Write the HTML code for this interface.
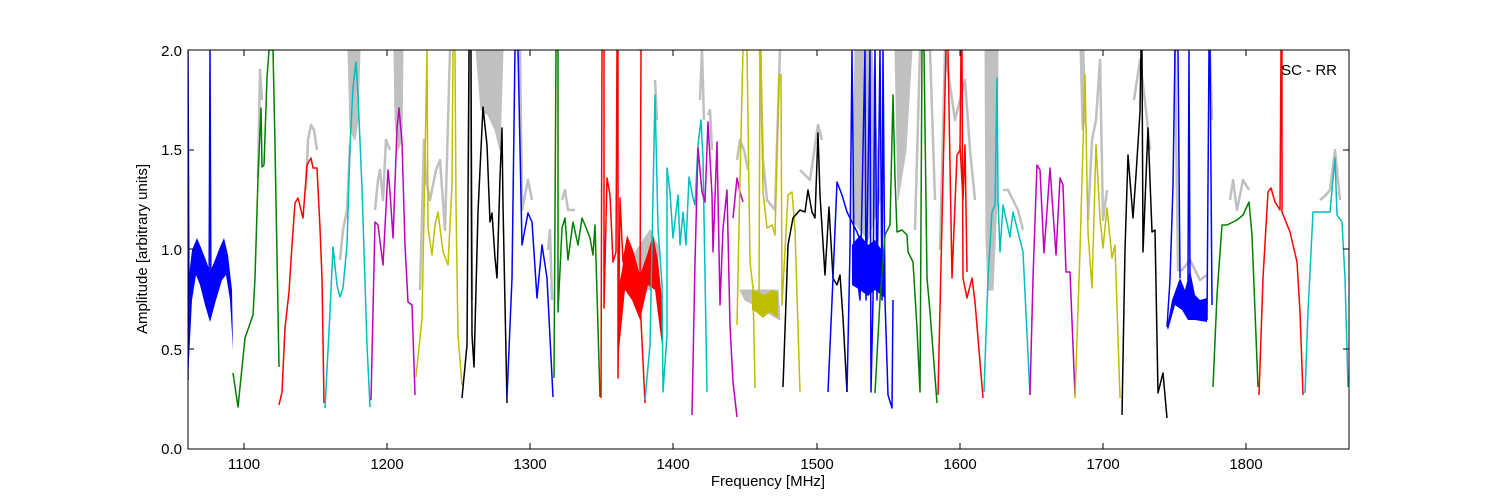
<!DOCTYPE html>
<html><head><meta charset="utf-8"><style>
html,body{margin:0;padding:0;background:#fff;}
svg{display:block;font-family:"Liberation Sans","DejaVu Sans",sans-serif;}
</style></head><body>
<svg width="1500" height="500" viewBox="0 0 1500 500">
<rect width="1500" height="500" fill="#fff"/>
<defs><clipPath id="c"><rect x="188" y="50" width="1161" height="399"/></clipPath></defs>
<g clip-path="url(#c)" fill="none" stroke-linejoin="round">
<g fill="#c0c0c0" stroke="#c0c0c0" stroke-width="1">
<polygon points="348,50 360,50 358,120 355,140 350,130"/>
<polygon points="394,50 403,50 402,140 398,150 395,120"/>
<polygon points="476,50 503,50 500,150 495,130 488,115 481,110"/>
<polygon points="985,50 998,50 997,200 993,290 988,290 986,240"/>
<polygon points="855,50 872,50 880,200 868,240 852,220"/>
<polygon points="895,50 912,50 906,150 898,200"/>
<polygon points="1080,50 1084,50 1086,120 1082,130"/>
<polygon points="740,290 778,290 780,320 745,300"/>
<polygon points="630,260 650,230 660,250 650,290 640,285"/>
</g>
<g stroke="#c0c0c0" stroke-width="2.5">
<polyline points="258,178 260,70 262,100"/>
<polyline points="306,190 308,140 311,125 314,130 317,150"/>
<polyline points="340,260 343,230 347,210 350,145"/>
<polyline points="375,210 378,180 380,170 383,200 386,140 390,150"/>
<polyline points="420,290 424,140 426,180 430,200 436,170 440,160 445,230 450,50"/>
<polyline points="470,50 472,300"/>
<polyline points="520,50 522,210 528,180 532,200"/>
<polyline points="548,250 550,230 552,300"/>
<polyline points="562,200 565,190 568,210 575,210"/>
<polyline points="655,80 657,120"/>
<polyline points="700,100 702,50 704,120"/>
<polyline points="708,115 710,110 712,150"/>
<polyline points="737,160 740,140 744,150 748,170"/>
<polyline points="760,50 763,160 767,200 775,210 780,50"/>
<polyline points="800,170 810,180 818,125 822,140"/>
<polyline points="915,230 920,50 930,50 935,200"/>
<polyline points="940,250 945,50 955,120 965,80 970,150 975,200"/>
<polyline points="1003,190 1008,190 1013,200 1018,210 1023,230"/>
<polyline points="1088,220 1092,140 1096,120 1100,60 1103,220 1107,190"/>
<polyline points="1134,100 1140,60 1146,110 1150,150"/>
<polyline points="1175,50 1178,270 1182,270 1190,260 1200,280 1207,275"/>
<polyline points="1208,50 1210,50 1212,120"/>
<polyline points="1230,200 1233,180 1237,210 1243,180 1249,190"/>
<polyline points="1320,200 1326,195 1330,190 1335,150 1340,200"/>
</g>
<g stroke="none">
<polygon fill="#0000ff" points="188,285 192,250 197,238 202,250 207,263 210,272 215,260 220,247 224,238 228,255 232,290 233,350 230,300 226,275 222,280 216,300 210,322 205,305 200,285 196,275 192,300 188,380"/>
<polygon fill="#ff0000" points="618,290 622,270 627,235 633,250 640,275 647,255 653,235 658,260 662,300 662,345 660,330 655,290 648,285 640,320 632,300 625,290 620,340 618,360"/>
<polygon fill="#bfbf00" points="752,290 758,292 765,295 772,290 778,292 778,318 770,312 763,318 756,312 752,310"/>
<polygon fill="#0000ff" points="852,245 860,235 868,245 875,240 885,255 885,298 875,290 868,296 860,290 852,285"/>
<polygon fill="#0000ff" points="1167,327 1172,300 1180,278 1185,290 1190,270 1195,295 1200,300 1207,298 1207,322 1195,320 1188,320 1182,310 1175,305 1168,330"/>
</g>
<g stroke-width="1.5">
<polyline stroke="#0000ff" points="188,380 188,50 189,300"/>
<polyline stroke="#0000ff" points="209,310 210,50 211,310"/>
<polyline stroke="#008000" points="233,373 238,407 245,338 253,315 255,278 258,178 261,108 262,167 264,165 267,78 269,50 273,50 275,145 279,367"/>
<polyline stroke="#ff0000" points="279,405 282,392 285,328 289,292 292,245 295,203 298,198 303,218 307,165 311,158 313,168 317,168 320,228 322,278 324,403"/>
<polyline stroke="#00bfbf" points="325,408 330,312 333,247 337,285 340,297 343,288 347,245 350,145 353,88 356,62 358,95 362,188 367,345 370,407"/>
<polyline stroke="#bf00bf" points="371,400 375,222 378,225 383,265 388,170 390,192 393,238 397,128 399,108 402,142 405,245 408,302 412,305 415,395"/>
<polyline stroke="#bfbf00" points="416,377 422,318 424,215 427,50 428,228 432,255 435,225 438,212 443,252 448,265 450,225 452,185 453,50 455,50 456,205 458,335 462,385"/>
<polyline stroke="#000000" points="462,398 467,345 469,50 471,50 472,335 474,367 478,212 483,107 487,145 490,222 492,213 495,258 497,278 500,178 502,128 503,205 507,403"/>
<polyline stroke="#0000ff" points="507,397 512,278 515,50 518,50 522,245 528,213 532,222 537,298 542,245 547,278 553,397"/>
<polyline stroke="#008000" points="554,378 556,50 558,50 558,312 562,228 565,218 568,260 573,222 578,245 582,218 585,225 590,238 593,255 595,225 600,397"/>
<polyline stroke="#ff0000" points="601,398 602,50 604,50 604,308 607,178 610,195 613,262 616,252 617,50 618,50 618,378 620,198 623,262 627,240"/>
<polyline stroke="#ff0000" points="639,50 641,50 640,300 645,403"/>
<polyline stroke="#00bfbf" points="645,400 650,345 652,245 655,95 658,228 662,285 663,392 667,335 667,168 670,192 673,238 678,195 680,245 683,212 686,245 689,177 693,198 695,205 698,145 701,120 703,158 707,392"/>
<polyline stroke="#bf00bf" points="692,415 695,262 698,148 702,192 705,202 708,122 712,195 713,252 717,142 720,305 723,228 727,190 730,325 733,382 737,417"/>
<polyline stroke="#bf00bf" points="733,218 737,178 740,192 743,202"/>
<polyline stroke="#bfbf00" points="737,325 740,178 743,50 747,50 750,262 753,288 755,388"/>
<polyline stroke="#bfbf00" points="759,300 760,50 761,50 763,192 767,228 772,225 775,235 779,75 781,75 782,305 785,250 788,195 792,192 795,230 800,392"/>
<polyline stroke="#000000" points="783,387 788,245 793,218 800,210 805,212 808,190 812,212 815,218 818,133 820,195 825,275 829,207 833,278 837,285 840,275 843,318 847,392"/>
<polyline stroke="#0000ff" points="828,392 833,278 837,182 842,195 847,212 852,222 857,232 862,245"/>
<polyline stroke="#0000ff" points="847,392 850,250 852,50 854,250 860,300 865,50 866,300 870,50 871,392 873,300 875,50 877,300 880,50 882,300 883,50 885,300 888,395 892,408 893,300"/>
<polyline stroke="#008000" points="875,393 880,300 885,235 890,225 893,95 895,178 897,232 902,230 907,235 908,252 913,262 917,328 920,392 922,50 924,50 927,278 930,312 937,403"/>
<polyline stroke="#ff0000" points="938,395 943,178 946,50 948,50 952,278 957,155 960,150 961,50 962,50 963,278 967,298 972,278 975,302 983,398"/>
<polyline stroke="#ff0000" points="960,145 963,200 965,145 967,272"/>
<polyline stroke="#00bfbf" points="984,392 988,278 992,212 995,205 997,78 998,200 1000,252 1003,205 1010,237 1013,212 1018,232 1023,252 1030,395"/>
<polyline stroke="#bf00bf" points="1030,395 1033,278 1037,165 1040,170 1044,253 1050,168 1056,255 1060,178 1063,185 1066,272 1070,272 1075,395"/>
<polyline stroke="#bfbf00" points="1075,398 1080,250 1085,75 1088,232 1092,288 1096,145 1100,218 1103,248 1107,208 1112,258 1115,245 1120,398"/>
<polyline stroke="#000000" points="1122,415 1125,250 1128,155 1133,218 1136,175 1140,112 1141,50 1142,50 1143,252 1148,128 1152,232 1155,230 1158,393 1163,373 1167,418"/>
<polyline stroke="#0000ff" points="1167,327 1170,280 1173,185 1175,50 1178,50 1180,278"/>
<polyline stroke="#0000ff" points="1188,280 1189,50 1190,280"/>
<polyline stroke="#0000ff" points="1207,320 1209,50 1210,50 1212,305"/>
<polyline stroke="#008000" points="1213,387 1217,295 1222,225 1227,225 1237,220 1243,215 1249,202 1252,235 1258,387"/>
<polyline stroke="#ff0000" points="1259,395 1263,278 1268,192 1271,188 1275,202 1280,210 1281,50 1282,50 1282,212 1290,232 1297,262 1300,312 1303,395"/>
<polyline stroke="#00bfbf" points="1305,393 1308,312 1313,212 1320,212 1330,212 1335,158 1337,215 1342,222 1345,278 1348,387"/>
</g>
</g>
<rect x="188" y="50" width="1161" height="399" fill="none" stroke="#000" stroke-width="1"/>
<g stroke="#000" stroke-width="1">
<line x1="244" y1="449" x2="244" y2="443"/><line x1="387" y1="449" x2="387" y2="443"/><line x1="530" y1="449" x2="530" y2="443"/><line x1="673" y1="449" x2="673" y2="443"/><line x1="817" y1="449" x2="817" y2="443"/><line x1="960" y1="449" x2="960" y2="443"/><line x1="1103" y1="449" x2="1103" y2="443"/><line x1="1246" y1="449" x2="1246" y2="443"/>
<line x1="244" y1="50" x2="244" y2="56"/><line x1="387" y1="50" x2="387" y2="56"/><line x1="530" y1="50" x2="530" y2="56"/><line x1="673" y1="50" x2="673" y2="56"/><line x1="817" y1="50" x2="817" y2="56"/><line x1="960" y1="50" x2="960" y2="56"/><line x1="1103" y1="50" x2="1103" y2="56"/><line x1="1246" y1="50" x2="1246" y2="56"/>
<line x1="188" y1="349" x2="194" y2="349"/><line x1="188" y1="249" x2="194" y2="249"/><line x1="188" y1="150" x2="194" y2="150"/>
<line x1="1349" y1="349" x2="1343" y2="349"/><line x1="1349" y1="249" x2="1343" y2="249"/><line x1="1349" y1="150" x2="1343" y2="150"/>
</g>
<g font-size="15" fill="#000" text-anchor="middle">
<text x="244" y="469">1100</text><text x="387" y="469">1200</text><text x="530" y="469">1300</text><text x="673" y="469">1400</text><text x="817" y="469">1500</text><text x="960" y="469">1600</text><text x="1103" y="469">1700</text><text x="1246" y="469">1800</text>
<text x="768" y="486">Frequency [MHz]</text>
</g>
<g font-size="15" fill="#000" text-anchor="end">
<text x="182" y="454">0.0</text><text x="182" y="355">0.5</text><text x="182" y="255">1.0</text><text x="182" y="155">1.5</text><text x="182" y="56">2.0</text>
<text x="1337" y="75">SC - RR</text>
</g>
<text transform="translate(147,249) rotate(-90)" font-size="15" text-anchor="middle">Amplitude [arbitrary units]</text>
</svg>
</body></html>
